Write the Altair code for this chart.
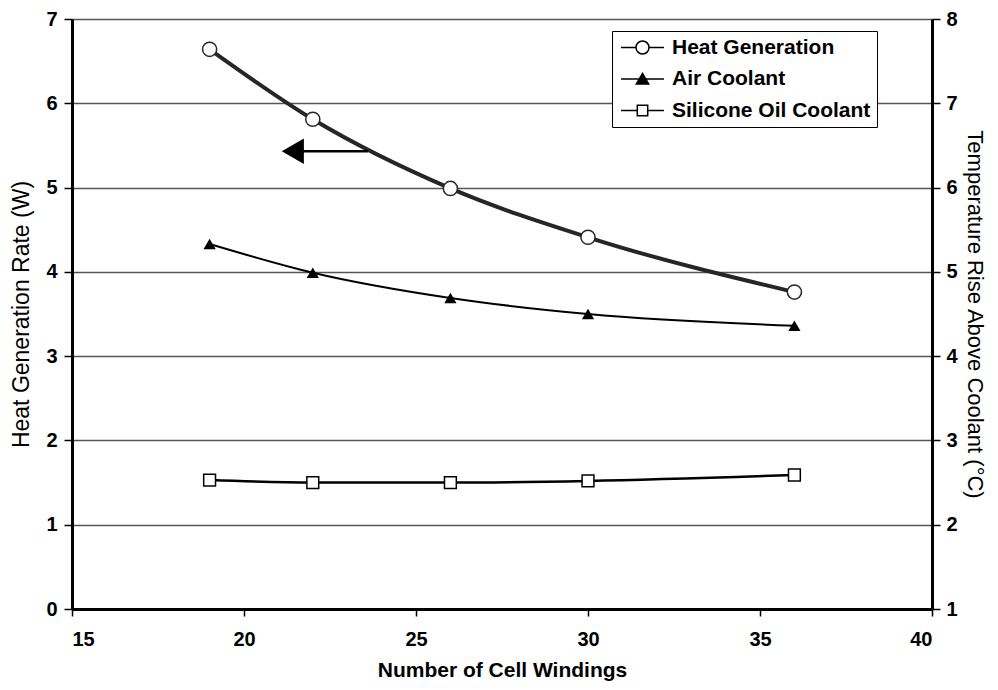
import altair as alt
import pandas as pd

# ---- data ----
windings = [19, 22, 26, 30, 36]
heat_generation_w = [6.64, 5.81, 4.99, 4.41, 3.76]
air_coolant_temp = [5.33, 4.99, 4.69, 4.50, 4.36]
oil_coolant_temp = [2.53, 2.50, 2.50, 2.52, 2.59]

series_names = ["Heat Generation", "Air Coolant", "Silicone Oil Coolant"]

x_ticks = [15, 20, 25, 30, 35, 40]
left_ticks = [0, 1, 2, 3, 4, 5, 6, 7]
right_ticks = [1, 2, 3, 4, 5, 6, 7, 8]

# arrow annotation (points to left axis)
arrow_x_start = [23.60]
arrow_x_end = [21.42]
arrow_y = [5.43]

FONT = "Liberation Sans"

heat_df = pd.DataFrame({"windings": windings, "value": heat_generation_w})
air_df = pd.DataFrame({"windings": windings, "value": air_coolant_temp})
oil_df = pd.DataFrame({"windings": windings, "value": oil_coolant_temp})
arrow_df = pd.DataFrame({"x1": arrow_x_start, "x2": arrow_x_end, "y": arrow_y})

x_scale = alt.Scale(domain=[15, 40], nice=False, zero=False)
x_axis = alt.Axis(values=x_ticks, title="Number of Cell Windings", grid=False,
                  labelFontSize=20, labelFontWeight="bold", labelFont=FONT,
                  titleFontSize=21, titleFontWeight="bold", titleFont=FONT,
                  tickSize=7, labelPadding=13, titlePadding=10,
                  domainWidth=3, domainColor="black", tickColor="black", tickWidth=1.5,
                  labelColor="black", titleColor="black")

left_scale = alt.Scale(domain=[0, 7], nice=False, zero=False)
left_axis = alt.Axis(values=left_ticks, title="Heat Generation Rate (W)", grid=True,
                     gridColor="#555555", gridWidth=1.5, orient="left",
                     labelFontSize=20, labelFontWeight="bold", labelFont=FONT,
                     titleFontSize=23, titleFontWeight="normal", titleFont=FONT,
                     tickSize=8, labelPadding=7, titlePadding=12,
                     domainWidth=3, domainColor="black", tickColor="black", tickWidth=1.5,
                     labelColor="black", titleColor="black")

right_scale = alt.Scale(domain=[1, 8], nice=False, zero=False)
right_axis = alt.Axis(values=right_ticks, title="Temperature Rise Above Coolant (°C)", grid=False,
                      orient="right",
                      labelFontSize=20, labelFontWeight="bold", labelFont=FONT,
                      titleFontSize=22, titleFontWeight="normal", titleFont=FONT,
                      tickSize=8, labelPadding=6, titlePadding=5,
                      domainWidth=3, domainColor="black", tickColor="black", tickWidth=1.5,
                      labelColor="black", titleColor="black")


def xenc(field="windings"):
    return alt.X(f"{field}:Q", scale=x_scale, axis=x_axis)


def yleft(field="value"):
    return alt.Y(f"{field}:Q", scale=left_scale, axis=left_axis)


def yright(field="value"):
    return alt.Y(f"{field}:Q", scale=right_scale, axis=right_axis)


heat_line = alt.Chart(heat_df).mark_line(color="#262626", strokeWidth=4, interpolate="monotone").encode(
    x=xenc(), y=yleft())
heat_pts = alt.Chart(heat_df).mark_point(shape="circle", size=200, filled=True, fill="white",
                                         stroke="#262626", strokeWidth=1.5, opacity=1).encode(x=xenc(), y=yleft())
arrow_shaft = alt.Chart(arrow_df).mark_rule(color="black", strokeWidth=2.5).encode(
    x=xenc("x1"), x2="x2:Q", y=yleft("y"))
arrow_head = alt.Chart(arrow_df).mark_point(shape="triangle-left", size=650, filled=True,
                                            color="black", opacity=1).encode(x=xenc("x2"), y=yleft("y"))

left_layer = alt.layer(heat_line, heat_pts, arrow_shaft, arrow_head)

air_line = alt.Chart(air_df).mark_line(color="black", strokeWidth=2, interpolate="monotone").encode(
    x=xenc(), y=yright())
air_pts = alt.Chart(air_df).mark_point(shape="triangle-up", size=150, filled=True, color="black",
                                       opacity=1).encode(x=xenc(), y=yright())
oil_line = alt.Chart(oil_df).mark_line(color="black", strokeWidth=2.5, interpolate="monotone").encode(
    x=xenc(), y=yright())
oil_pts = alt.Chart(oil_df).mark_point(shape="square", size=140, filled=True, fill="white",
                                       stroke="black", strokeWidth=1.5, opacity=1).encode(x=xenc(), y=yright())

right_layer = alt.layer(air_line, oil_line, air_pts, oil_pts)

# legend-only layer (no marks drawn; legend built from explicit domain)
legend_paths = [
    "M-3.3,0L-1,0M1,0L3.3,0M-1,0A1,1 0 1,0 1,0A1,1 0 1,0 -1,0Z",
    "M-3.3,0L3.3,0M0,-0.85L0.95,0.75L-0.95,0.75Z",
    "M-3.3,0L-0.8,0M0.8,0L3.3,0M-0.8,-0.8L0.8,-0.8L0.8,0.8L-0.8,0.8Z",
]
legend_fills = ["white", "black", "white"]
legend_strokes = ["black", "black", "black"]
legend_def = alt.Legend(orient="none", legendX=540, legendY=12, title=None,
                        strokeColor="black", fillColor="white", padding=6,
                        symbolSize=169, symbolStrokeWidth=1.5,
                        symbolOpacity=1, symbolOffset=14, labelOffset=19,
                        labelFont=FONT, labelFontSize=21, labelFontWeight="bold",
                        labelColor="black", rowPadding=9.5, labelLimit=400)

legend_data = pd.DataFrame({"series": series_names})
legend_layer = alt.Chart(legend_data).transform_filter("false").mark_point(
    filled=True, strokeWidth=1.5, opacity=1).encode(
    shape=alt.Shape("series:N", scale=alt.Scale(domain=series_names, range=legend_paths), legend=legend_def),
    fill=alt.Fill("series:N", scale=alt.Scale(domain=series_names, range=legend_fills), legend=legend_def),
    stroke=alt.Stroke("series:N", scale=alt.Scale(domain=series_names, range=legend_strokes), legend=legend_def),
)

chart = alt.layer(left_layer, right_layer, legend_layer).resolve_scale(
    y="independent"
).properties(
    width=860, height=590,
    autosize=alt.AutoSizeParams(type="none"),
    padding={"left": 64, "top": 11, "right": 58, "bottom": 73},
).configure_view(stroke=None).configure(background="white")

chart.save("out.html", embed_options={"renderer": "svg", "actions": False})
